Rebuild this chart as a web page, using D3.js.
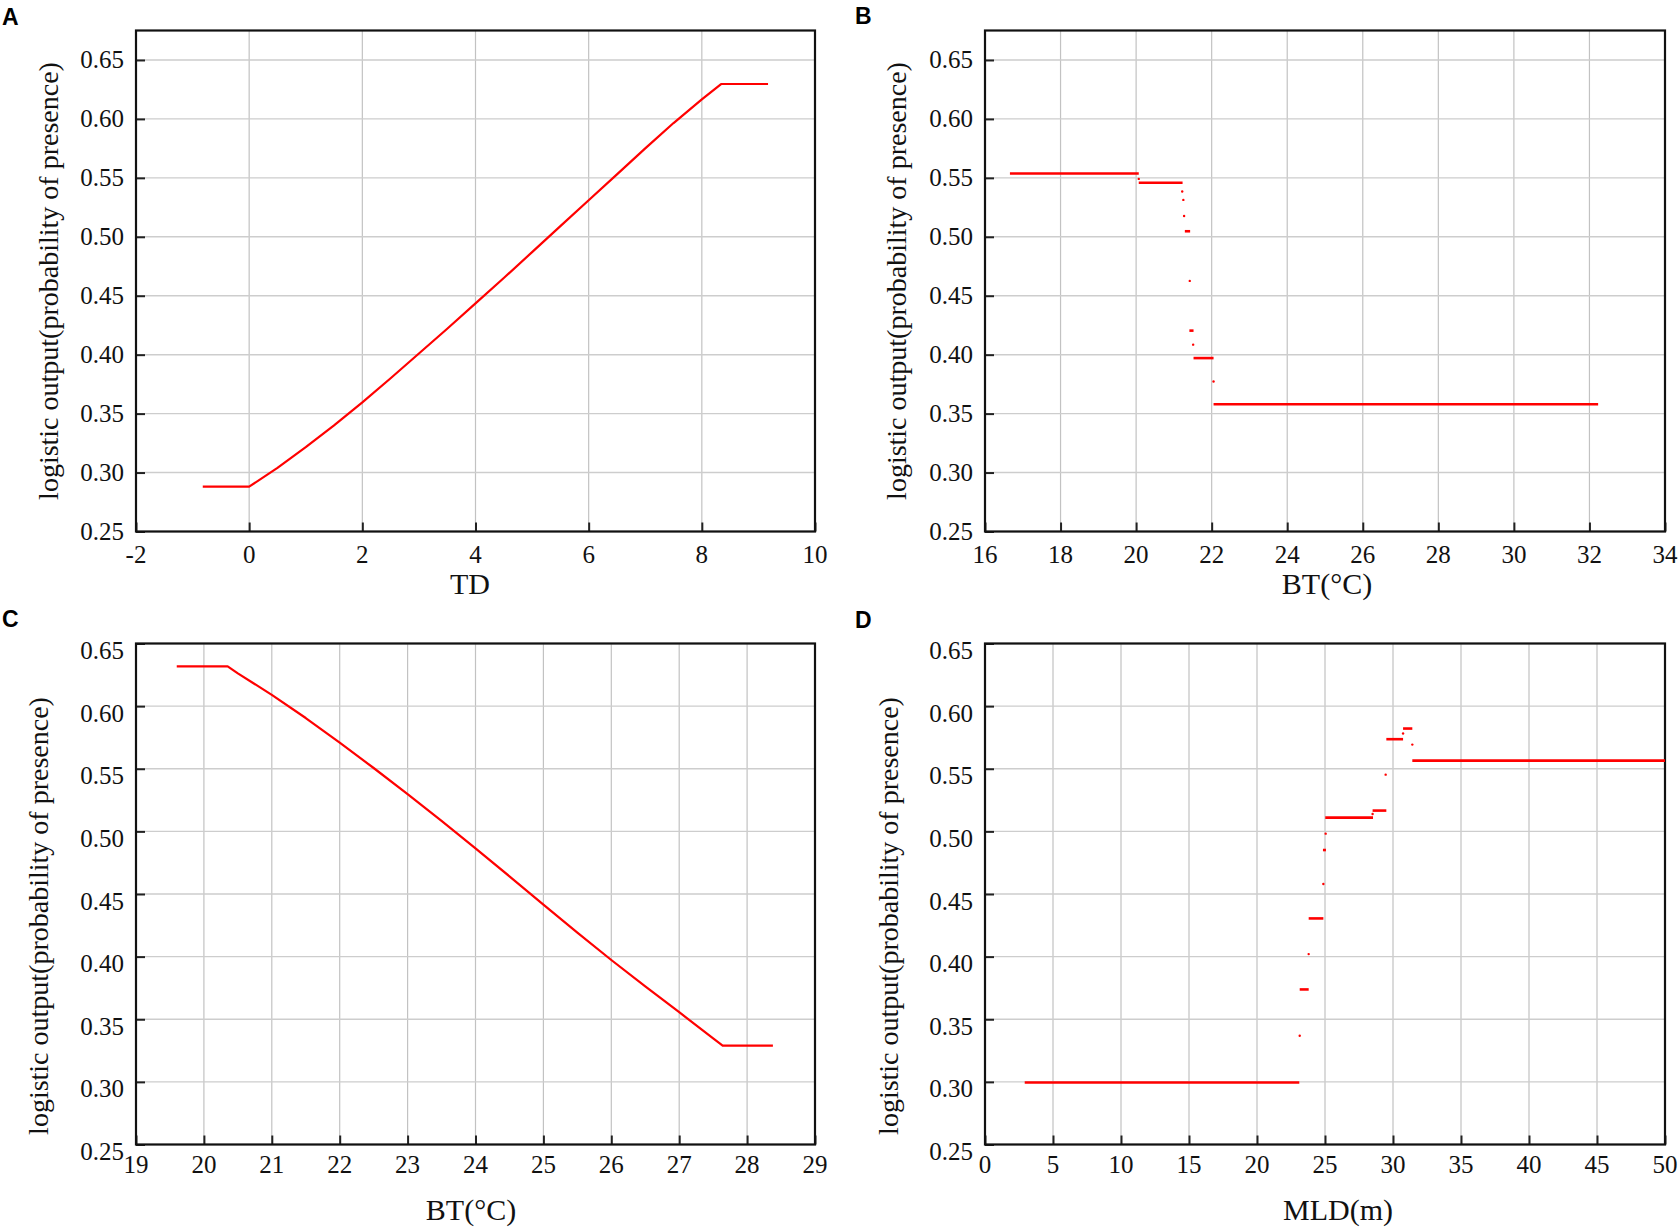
<!DOCTYPE html>
<html>
<head>
<meta charset="utf-8">
<script src="https://cdn.jsdelivr.net/npm/d3@7"></script>
<style>
  body { margin: 0; background: #fff; }
  svg { display: block; }
</style>
</head>
<body>
<div id="chart"></div>
<script>
// ---- data ----
const yTicks = [0.25, 0.30, 0.35, 0.40, 0.45, 0.50, 0.55, 0.60, 0.65];
const tdTicks = [-2, 0, 2, 4, 6, 8, 10];
const btTicksB = [16, 18, 20, 22, 24, 26, 28, 30, 32, 34];
const btTicksC = [19, 20, 21, 22, 23, 24, 25, 26, 27, 28, 29];
const mldTicks = [0, 5, 10, 15, 20, 25, 30, 35, 40, 45, 50];

// A: response curve to TD
const tdCurve = [
  [-0.82, 0.288], [0, 0.288], [0.5, 0.304], [1, 0.3215], [1.5, 0.340], [2, 0.3595],
  [2.5, 0.380], [3, 0.401], [3.5, 0.422], [4, 0.4435], [4.5, 0.465], [5, 0.487],
  [5.5, 0.509], [6, 0.531], [6.5, 0.553], [7, 0.575], [7.5, 0.5965], [8, 0.6165],
  [8.34, 0.6296], [9.17, 0.6296]
];

// B: step response to BT (segments: x start, x end, value) and isolated points
const btStepsB = [
  [16.66, 20.07, 0.5537], [20.07, 21.23, 0.5458], [21.29, 21.43, 0.5047],
  [21.41, 21.52, 0.4204], [21.52, 22.05, 0.3971], [22.05, 32.23, 0.3580]
];
const btDotsB = [
  [20.07, 0.5491], [21.22, 0.5384], [21.25, 0.5313], [21.27, 0.5177],
  [21.42, 0.4626], [21.51, 0.4085], [22.05, 0.3772]
];

// C: response curve to BT
const btCurveC = [
  [19.60, 0.6317], [20.35, 0.6317], [20.5, 0.6262], [21, 0.6090], [21.5, 0.5905],
  [22, 0.5708], [22.5, 0.5506], [23, 0.5298], [23.5, 0.5083], [24, 0.4864],
  [24.5, 0.4641], [25, 0.4415], [25.5, 0.4192], [26, 0.3973], [26.5, 0.3762],
  [27, 0.3556], [27.5, 0.3348], [27.64, 0.3290], [28.38, 0.3290]
];

// D: step response to MLD
const mldSteps = [
  [2.92, 23.11, 0.2995], [23.14, 23.80, 0.3738], [23.80, 24.88, 0.4305],
  [24.85, 25.07, 0.4851], [25.02, 28.53, 0.5110], [28.50, 29.51, 0.5166],
  [29.51, 30.74, 0.5736], [30.74, 31.42, 0.5821], [31.42, 50, 0.5565]
];
const mldDots = [
  [23.14, 0.3368], [23.80, 0.4020], [24.88, 0.4580], [25.05, 0.4982],
  [28.50, 0.5139], [29.46, 0.5453], [30.74, 0.5781], [31.42, 0.5693]
];

const yTitle = 'logistic output(probability of presence)';

const serif = '"Liberation Serif", "Times New Roman", serif';

const panels = [
  { letter: 'A', lx: 2, ly: 25, left: 136, right: 815, top: 30.5, bottom: 531.5,
    xDomain: [-2, 10], yDomain: [0.25, 0.675], xTicks: tdTicks,
    xTitle: 'TD', xTitleX: 470, xTitleY: 594, yTitleX: 58, yTitleY: 281,
    xLabelY: 563, yLabelDy: 0, curve: tdCurve },
  { letter: 'B', lx: 855, ly: 24, left: 985, right: 1665, top: 30.5, bottom: 531.5,
    xDomain: [16, 34], yDomain: [0.25, 0.675], xTicks: btTicksB,
    xTitle: 'BT(°C)', xTitleX: 1327, xTitleY: 594, yTitleX: 906, yTitleY: 281,
    xLabelY: 563, yLabelDy: 0, steps: btStepsB, dots: btDotsB },
  { letter: 'C', lx: 2, ly: 627, left: 136, right: 815, top: 643.5, bottom: 1144.5,
    xDomain: [19, 29], yDomain: [0.25, 0.65], xTicks: btTicksC,
    xTitle: 'BT(°C)', xTitleX: 471, xTitleY: 1220, yTitleX: 48, yTitleY: 916,
    xLabelY: 1173, yLabelDy: 7, curve: btCurveC },
  { letter: 'D', lx: 855, ly: 628, left: 985, right: 1665, top: 643.5, bottom: 1144.5,
    xDomain: [0, 50], yDomain: [0.25, 0.65], xTicks: mldTicks,
    xTitle: 'MLD(m)', xTitleX: 1338, xTitleY: 1220, yTitleX: 898, yTitleY: 916,
    xLabelY: 1173, yLabelDy: 7, steps: mldSteps, dots: mldDots }
];

const svg = d3.select('#chart').append('svg')
  .attr('width', 1680)
  .attr('height', 1229);

panels.forEach(drawPanel);

function drawPanel(p) {
  const w = p.right - p.left;
  const h = p.bottom - p.top;

  const x = d3.scaleLinear().domain(p.xDomain).range([0, w]);
  const y = d3.scaleLinear().domain(p.yDomain).range([h, 0]);

  const g = svg.append('g')
    .attr('transform', `translate(${p.left},${p.top})`);

  // grid
  g.append('g')
    .selectAll('line')
    .data(p.xTicks)
    .join('line')
    .attr('x1', d => x(d)).attr('x2', d => x(d))
    .attr('y1', 0).attr('y2', h)
    .attr('stroke', '#c2c2c2')
    .attr('stroke-width', 1.2);

  g.append('g')
    .selectAll('line')
    .data(yTicks)
    .join('line')
    .attr('x1', 0).attr('x2', w)
    .attr('y1', d => y(d)).attr('y2', d => y(d))
    .attr('stroke', '#cdcdcd')
    .attr('stroke-width', 1.4);

  // inward tick marks (labels are placed separately below)
  const xg = g.append('g')
    .attr('transform', `translate(0,${h})`)
    .call(d3.axisBottom(x).tickValues(p.xTicks).tickSize(-9).tickFormat(''));
  const yg = g.append('g')
    .call(d3.axisLeft(y).tickValues(yTicks).tickSize(-9).tickFormat(''));

  [xg, yg].forEach(ax => {
    ax.select('.domain').remove();
    ax.selectAll('.tick line').attr('stroke', '#222').attr('stroke-width', 2);
    ax.selectAll('.tick text').remove();
  });

  // tick labels
  g.append('g')
    .selectAll('text')
    .data(p.xTicks)
    .join('text')
    .attr('x', d => x(d))
    .attr('y', p.xLabelY - p.top)
    .attr('text-anchor', 'middle')
    .style('font-family', serif)
    .style('font-size', '25px')
    .attr('fill', '#111')
    .text(d => String(d));

  g.append('g')
    .selectAll('text')
    .data(yTicks)
    .join('text')
    .attr('x', -12)
    .attr('y', d => y(d) + p.yLabelDy)
    .attr('dy', '0.34em')
    .attr('text-anchor', 'end')
    .style('font-family', serif)
    .style('font-size', '25px')
    .attr('fill', '#111')
    .text(d3.format('.2f'));

  // frame
  g.append('rect')
    .attr('width', w)
    .attr('height', h)
    .attr('fill', 'none')
    .attr('stroke', '#111')
    .attr('stroke-width', 2.2);

  // response
  if (p.curve) {
    const line = d3.line()
      .x(d => x(d[0]))
      .y(d => y(d[1]));
    g.append('path')
      .datum(p.curve)
      .attr('d', line)
      .attr('fill', 'none')
      .attr('stroke', '#ff0000')
      .attr('stroke-width', 2.2)
      .attr('stroke-linejoin', 'round');
  }
  if (p.steps) {
    g.selectAll('line.step')
      .data(p.steps)
      .join('line')
      .attr('class', 'step')
      .attr('x1', d => x(d[0])).attr('x2', d => x(d[1]))
      .attr('y1', d => y(d[2])).attr('y2', d => y(d[2]))
      .attr('stroke', '#ff0000')
      .attr('stroke-width', 2.6);
    g.selectAll('circle.dot')
      .data(p.dots)
      .join('circle')
      .attr('class', 'dot')
      .attr('cx', d => x(d[0]))
      .attr('cy', d => y(d[1]))
      .attr('r', 1.2)
      .attr('fill', '#ff0000');
  }

  // titles
  svg.append('text')
    .attr('x', p.xTitleX)
    .attr('y', p.xTitleY)
    .attr('text-anchor', 'middle')
    .style('font-family', serif)
    .style('font-size', '30px')
    .attr('fill', '#111')
    .text(p.xTitle);

  svg.append('text')
    .attr('transform', `translate(${p.yTitleX},${p.yTitleY}) rotate(-90)`)
    .attr('text-anchor', 'middle')
    .style('font-family', serif)
    .style('font-size', '28px')
    .attr('fill', '#111')
    .text(yTitle);

  svg.append('text')
    .attr('x', p.lx)
    .attr('y', p.ly)
    .style('font-family', '"Liberation Sans", Arial, sans-serif')
    .style('font-weight', 'bold')
    .style('font-size', '23px')
    .attr('fill', '#000')
    .text(p.letter);
}
</script>
</body>
</html>
